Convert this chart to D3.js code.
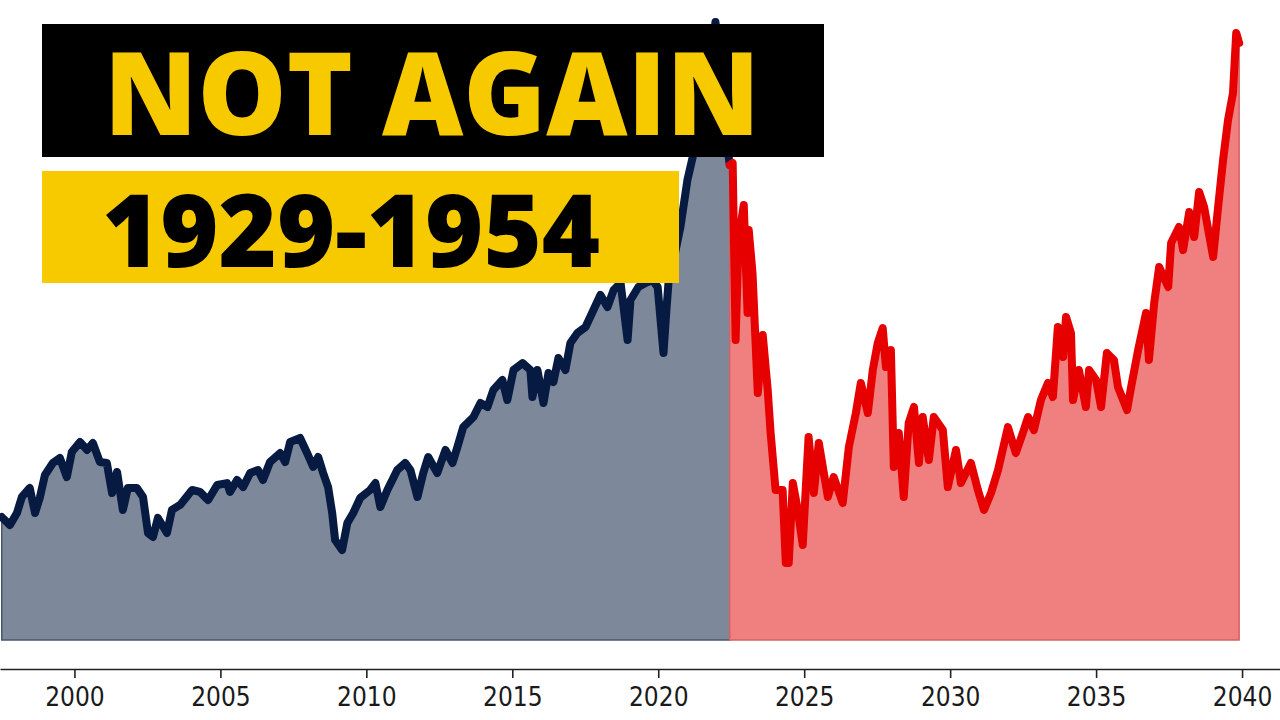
<!DOCTYPE html>
<html>
<head>
<meta charset="utf-8">
<script src="https://cdn.jsdelivr.net/npm/d3@7"></script>
<style>
  html, body { margin: 0; padding: 0; background: #fff; }
  svg { display: block; }
</style>
</head>
<body>
<div id="svgTarget"></div>
<script>
// index level (S&P-like scale)
const pastYears = [
  1997.51, 1997.79, 1998.03, 1998.20, 1998.47, 1998.65, 1998.82, 1998.99, 1999.26, 1999.50,
  1999.74, 1999.91, 2000.19, 2000.43, 2000.63, 2000.87, 2001.11, 2001.29, 2001.46, 2001.66,
  2001.83, 2002.14, 2002.35, 2002.52, 2002.69, 2002.86, 2003.17, 2003.34, 2003.62, 2004.03,
  2004.30, 2004.58, 2004.89, 2005.23, 2005.33, 2005.57, 2005.78, 2006.02, 2006.29, 2006.46,
  2006.70, 2007.05, 2007.22, 2007.39, 2007.73, 2007.97, 2008.18, 2008.35, 2008.52, 2008.69,
  2008.83, 2008.93, 2009.17, 2009.35, 2009.55, 2009.79, 2010.13, 2010.31, 2010.48, 2010.72,
  2011.06, 2011.33, 2011.51, 2011.75, 2011.95, 2012.12, 2012.43, 2012.71, 2012.95, 2013.12,
  2013.32, 2013.67, 2013.91, 2014.15, 2014.35, 2014.66, 2014.83, 2015.04, 2015.35, 2015.62,
  2015.69, 2015.86, 2016.07, 2016.24, 2016.41, 2016.58, 2016.82, 2016.99, 2017.23, 2017.51,
  2017.78, 2018.02, 2018.26, 2018.47, 2018.71, 2018.95, 2019.05, 2019.32, 2019.56, 2019.80,
  2019.98, 2020.08, 2020.18, 2020.28, 2020.35, 2020.56, 2020.76, 2021.00, 2021.18, 2021.35,
  2021.55, 2021.72, 2021.86, 2021.96, 2022.07, 2022.17, 2022.27, 2022.38, 2022.45
];
const pastValues = [
  955, 893, 986, 1111, 1181, 986, 1111, 1282, 1375, 1414,
  1266, 1460, 1538, 1476, 1530, 1383, 1375, 1142, 1305, 1010,
  1181, 1181, 1111, 831, 800, 948, 831, 1010, 1049, 1165,
  1150, 1087, 1204, 1219, 1150, 1243, 1188, 1297, 1320, 1243,
  1383, 1452, 1383, 1538, 1569, 1452, 1344, 1421, 1297, 1188,
  986, 777, 699, 909, 986, 1103, 1165, 1219, 1033, 1165,
  1320, 1375, 1320, 1111, 1297, 1421, 1297, 1476, 1375, 1499,
  1654, 1732, 1841, 1810, 1942, 2019, 1864, 2097, 2151, 2097,
  1887, 2097, 1841, 2074, 2004, 2190, 2097, 2307, 2384, 2431,
  2563, 2680, 2586, 2718, 2773, 2330, 2641, 2742, 2773, 2796,
  2742, 2485, 2229, 2563, 2773, 2990, 3208, 3573, 3751, 3961,
  4233, 4427, 4621, 4800, 4544, 4233, 3961, 3806, 3689
];

const futureYears = [
  2022.45, 2022.55, 2022.65, 2022.75, 2022.93, 2023.06, 2023.10, 2023.23, 2023.41, 2023.58,
  2023.75, 2023.85, 2024.02, 2024.26, 2024.37, 2024.47, 2024.61, 2024.78, 2024.95, 2025.15,
  2025.33, 2025.50, 2025.81, 2026.01, 2026.32, 2026.53, 2026.77, 2026.94, 2027.18, 2027.35,
  2027.52, 2027.69, 2027.80, 2027.97, 2028.07, 2028.24, 2028.41, 2028.58, 2028.76, 2028.93,
  2029.06, 2029.27, 2029.44, 2029.75, 2029.92, 2030.20, 2030.37, 2030.71, 2030.95, 2031.16,
  2031.40, 2031.64, 2031.98, 2032.25, 2032.49, 2032.67, 2032.87, 2033.11, 2033.35, 2033.52,
  2033.69, 2033.87, 2033.97, 2034.14, 2034.21, 2034.41, 2034.65, 2034.76, 2035.00, 2035.17,
  2035.37, 2035.61, 2035.75, 2036.06, 2036.20, 2036.44, 2036.71, 2036.81, 2036.99, 2037.16,
  2037.47, 2037.57, 2037.84, 2037.98, 2038.19, 2038.36, 2038.53, 2038.70, 2039.01, 2039.18,
  2039.35, 2039.52, 2039.69, 2039.80, 2039.90
];
const futureValues = [
  3689, 3705, 2330, 3107, 3379, 2540, 3184, 2850, 1918, 2369,
  1942, 1608, 1165, 1165, 598, 598, 1219, 1010, 738, 1577,
  1142, 1530, 1111, 1266, 1064, 1499, 1763, 1996, 1763, 2097,
  2307, 2423, 2120, 2252, 1344, 1608, 1111, 1685, 1810, 1375,
  1732, 1398, 1732, 1631, 1188, 1476, 1219, 1375, 1165, 1010,
  1142, 1320, 1654, 1452, 1608, 1732, 1631, 1864, 1996, 1887,
  2431, 2198, 2509, 2384, 1864, 2097, 1810, 2097, 2019, 1810,
  2229, 2175, 1965, 1786, 1965, 2252, 2540, 2175, 2617, 2897,
  2742, 3084, 3208, 3029, 3324, 3130, 3480, 3363, 2975, 3363,
  3728, 4039, 4249, 4715, 4637
];

const tickYears = [2000, 2005, 2010, 2015, 2020, 2025, 2030, 2035, 2040];

const titleText = "NOT AGAIN";
const subtitleText = "1929-1954";

const width = 1280;
const height = 720;

const past = pastYears.map((d, i) => ({ year: d, value: pastValues[i] }));
const future = futureYears.map((d, i) => ({ year: d, value: futureValues[i] }));

const svg = d3.select("#svgTarget")
  .append("svg")
    .attr("width", width)
    .attr("height", height);

const x = d3.scaleLinear()
  .domain([1997.45, 2041.3])
  .range([0, width]);

const y = d3.scaleLinear()
  .domain([0, 4800])
  .range([640, 22]);

const area = d3.area()
  .x(d => x(d.year))
  .y0(y(0))
  .y1(d => y(d.value));

const line = d3.line()
  .x(d => x(d.year))
  .y(d => y(d.value));

// filled areas
svg.append("path")
  .datum(past)
  .attr("d", area)
  .attr("fill", "#7e889b")
  .attr("stroke", "#4a566e")
  .attr("stroke-width", 1.5);

svg.append("path")
  .datum(future)
  .attr("d", area)
  .attr("fill", "#f08080")
  .attr("stroke", "#d86060")
  .attr("stroke-width", 1.5);

// lines
svg.append("path")
  .datum(past)
  .attr("d", line)
  .attr("fill", "none")
  .attr("stroke", "#061a42")
  .attr("stroke-width", 8)
  .attr("stroke-linejoin", "round")
  .attr("stroke-linecap", "round");

svg.append("path")
  .datum(future)
  .attr("d", line)
  .attr("fill", "none")
  .attr("stroke", "#e60000")
  .attr("stroke-width", 8)
  .attr("stroke-linejoin", "round")
  .attr("stroke-linecap", "round");

// x axis
const xAxis = d3.axisBottom(x)
  .tickValues(tickYears)
  .tickFormat(d3.format("d"))
  .tickSize(9)
  .tickSizeOuter(0);

const axisG = svg.append("g")
  .attr("transform", "translate(0, 669)")
  .call(xAxis);

axisG.select(".domain")
  .attr("stroke", "#222")
  .attr("stroke-width", 1.6);

axisG.selectAll(".tick line")
  .attr("stroke", "#222")
  .attr("stroke-width", 1.6);

axisG.selectAll(".tick text")
  .attr("y", 37)
  .attr("dy", null)
  .attr("fill", "#1a1a1a")
  .attr("font-family", "'DejaVu Sans Condensed', 'DejaVu Sans', sans-serif")
  .attr("font-stretch", "condensed")
  .attr("font-size", 26);

// title banners
svg.append("rect")
  .attr("x", 42)
  .attr("y", 24)
  .attr("width", 782)
  .attr("height", 133)
  .attr("fill", "#000");

svg.append("text")
  .attr("x", 104)
  .attr("y", 135)
  .attr("font-family", "'Open Sans', 'Noto Sans', sans-serif")
  .attr("font-weight", 800)
  .attr("font-size", 116)
  .attr("textLength", 656)
  .attr("lengthAdjust", "spacingAndGlyphs")
  .attr("fill", "#f7ca00")
  .text(titleText);

svg.append("rect")
  .attr("x", 42)
  .attr("y", 171)
  .attr("width", 637)
  .attr("height", 112)
  .attr("fill", "#f7ca00");

svg.append("text")
  .attr("x", 102)
  .attr("y", 267)
  .attr("font-family", "'Open Sans', 'Noto Sans', sans-serif")
  .attr("font-weight", 800)
  .attr("font-size", 101)
  .attr("textLength", 498)
  .attr("lengthAdjust", "spacingAndGlyphs")
  .attr("fill", "#000")
  .text(subtitleText);
</script>
</body>
</html>
